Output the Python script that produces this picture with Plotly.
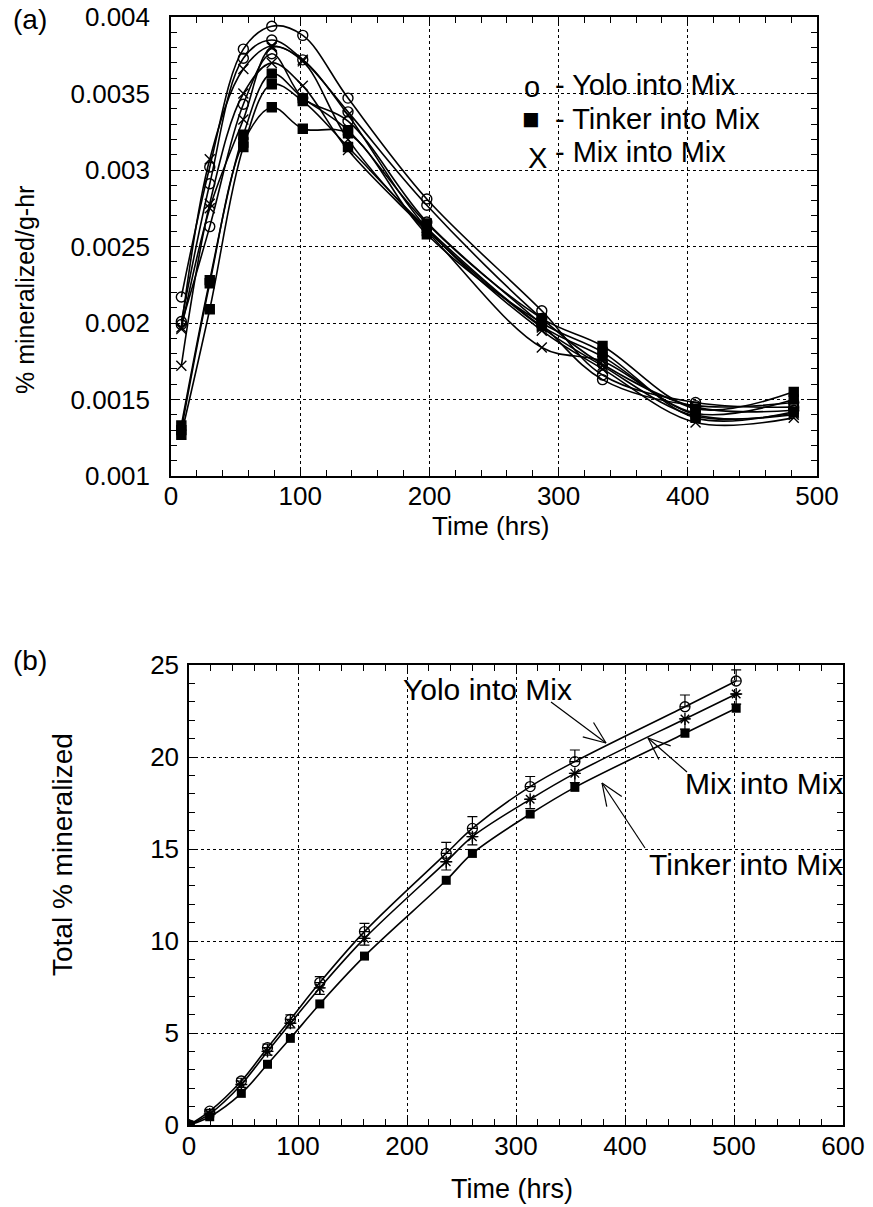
import math
import plotly.graph_objects as go

W, H = 873, 1207

# ---------------- data: panel (a) ----------------
t_a = [8, 30, 56, 78, 102, 137, 198, 287, 334, 406, 482]
yolo_a = [
    [0.00217, 0.00302, 0.00379, 0.00394, 0.00388, 0.00347, 0.00281, 0.00208, 0.00166, 0.00148, 0.00145],
    [0.00201, 0.00291, 0.00373, 0.00385, 0.00372, 0.00338, 0.00277, 0.00203, 0.00173, 0.00145, 0.00143],
    [0.00199, 0.00263, 0.00343, 0.00376, 0.00347, 0.00332, 0.00266, 0.00199, 0.00163, 0.00146, 0.00148],
]
tinker_a = [
    [0.00133, 0.00228, 0.00323, 0.00363, 0.00347, 0.00326, 0.00265, 0.00203, 0.00185, 0.00144, 0.00155],
    [0.00127, 0.00209, 0.00315, 0.00356, 0.00345, 0.00315, 0.00262, 0.00198, 0.00178, 0.00141, 0.00150],
    [0.00130, 0.00226, 0.00318, 0.00341, 0.00327, 0.00324, 0.00258, 0.00200, 0.00181, 0.00138, 0.00142],
]
mix_a = [
    [0.00197, 0.00307, 0.00366, 0.00381, 0.00372, 0.00336, 0.00262, 0.00195, 0.00170, 0.00135, 0.00138],
    [0.00172, 0.00278, 0.00350, 0.00370, 0.00355, 0.00313, 0.00260, 0.00184, 0.00175, 0.00140, 0.00140],
    [0.00196, 0.00275, 0.00333, 0.00380, 0.00371, 0.00320, 0.00261, 0.00197, 0.00172, 0.00139, 0.00141],
]
legend_a = ["- Yolo into Mix", "- Tinker into Mix", "- Mix into Mix"]

# ---------------- data: panel (b) ----------------
t_b = [0, 19, 48, 72, 93, 120, 161, 236, 260, 313, 354, 455, 502]
yolo_b = [0, 0.75, 2.39, 4.2, 5.74, 7.74, 10.51, 14.76, 16.12, 18.39, 19.75, 22.73, 24.13]
yolo_b_err = [0, 0.1, 0.15, 0.2, 0.25, 0.32, 0.45, 0.6, 0.64, 0.55, 0.63, 0.64, 0.6]
mix_b = [0, 0.6, 2.2, 4.0, 5.53, 7.45, 10.14, 14.31, 15.67, 17.7, 19.11, 22.07, 23.42]
mix_b_err = [0, 0.1, 0.15, 0.2, 0.25, 0.35, 0.36, 0.45, 0.45, 0.5, 0.5, 0.55, 0.55]
tinker_b = [0, 0.45, 1.72, 3.3, 4.71, 6.58, 9.18, 13.3, 14.76, 16.9, 18.35, 21.29, 22.65]
labels_b = ["Yolo into Mix", "Mix into Mix", "Tinker into Mix"]

FONT = "Liberation Sans, Arial, Helvetica, sans-serif"
LW = 1.6

fig = go.Figure()

sym_a = [("circle-open", yolo_a, 10), ("square", tinker_a, 9), ("x-thin-open", mix_a, 10)]
for sym, group, size in sym_a:
    for series in group:
        fig.add_trace(go.Scatter(
            x=t_a, y=series, mode="lines+markers", xaxis="x", yaxis="y",
            line=dict(color="black", width=LW, shape="spline", smoothing=1.0),
            marker=dict(symbol=sym, size=size, color="black", line=dict(color="black", width=1.4)),
            showlegend=False, hoverinfo="skip"))

# panel (b)
fig.add_trace(go.Scatter(
    x=t_b, y=yolo_b, mode="lines+markers", xaxis="x2", yaxis="y2",
    line=dict(color="black", width=LW, shape="spline", smoothing=1.0),
    marker=dict(symbol="circle-open", size=10, color="black", line=dict(width=1.3)),
    error_y=dict(type="data", symmetric=False, array=yolo_b_err, arrayminus=[0] * len(t_b),
                 color="black", thickness=1.2, width=5),
    showlegend=False, hoverinfo="skip"))
fig.add_trace(go.Scatter(
    x=t_b, y=mix_b, mode="lines+markers", xaxis="x2", yaxis="y2",
    line=dict(color="black", width=LW, shape="spline", smoothing=1.0),
    marker=dict(symbol="asterisk-open", size=10, color="black", line=dict(width=1.4)),
    error_y=dict(type="data", symmetric=False, array=[0] * len(t_b), arrayminus=mix_b_err,
                 color="black", thickness=1.2, width=5),
    showlegend=False, hoverinfo="skip"))
fig.add_trace(go.Scatter(
    x=t_b, y=tinker_b, mode="lines+markers", xaxis="x2", yaxis="y2",
    line=dict(color="black", width=LW, shape="spline", smoothing=1.0),
    marker=dict(symbol="square", size=9, color="black"),
    showlegend=False, hoverinfo="skip"))

# ---------------- axes ----------------
def px_x(p):
    return p / W

def px_y(p):
    return 1 - p / H

TICKF = dict(family=FONT, size=26, color="black")
common = dict(showline=True, linecolor="black", linewidth=1.5, mirror="ticks",
              ticks="inside", ticklen=8, tickwidth=1.2, tickcolor="black",
              showgrid=True, gridcolor="black", griddash="dot", gridwidth=1.2,
              zeroline=False, tickfont=TICKF, automargin=False)

fig.update_layout(
    template="none",
    width=W, height=H, margin=dict(l=0, r=0, t=0, b=0, autoexpand=False),
    paper_bgcolor="white", plot_bgcolor="white",
    xaxis=dict(domain=[px_x(171), px_x(817)], anchor="y", range=[0, 500], dtick=100,
               minor=dict(dtick=20, ticks="inside", ticklen=6, tickcolor="black", showgrid=False),
               ticklabelstandoff=-4, **common),
    yaxis=dict(domain=[px_y(476), px_y(17)], anchor="x", range=[0.001, 0.004], dtick=0.0005,
               tickformat="~g",
               minor=dict(dtick=0.0001, ticks="inside", ticklen=6, tickcolor="black", showgrid=False),
               ticklabelstandoff=14, **common),
    xaxis2=dict(domain=[px_x(189), px_x(843)], anchor="y2", range=[0, 600], dtick=100,
                minor=dict(dtick=20, ticks="inside", ticklen=6, tickcolor="black", showgrid=False),
                ticklabelstandoff=-3, **common),
    yaxis2=dict(domain=[px_y(1125), px_y(665)], anchor="x2", range=[0, 25], dtick=5,
                minor=dict(dtick=1, ticks="inside", ticklen=6, tickcolor="black", showgrid=False),
                ticklabelstandoff=3, **common),
)

ann = []
# axis titles
ann.append(dict(text="Time (hrs)", x=px_x(490), y=px_y(526), xref="paper", yref="paper",
                xanchor="center", yanchor="middle", showarrow=False,
                font=dict(family=FONT, size=26, color="black")))
ann.append(dict(text="Time (hrs)", x=px_x(512), y=px_y(1189), xref="paper", yref="paper",
                xanchor="center", yanchor="middle", showarrow=False,
                font=dict(family=FONT, size=27, color="black")))
ann.append(dict(text="% mineralized/g-hr", x=px_x(25), y=px_y(290), xref="paper", yref="paper",
                xanchor="center", yanchor="middle", textangle=-90, showarrow=False,
                font=dict(family=FONT, size=25, color="black")))
ann.append(dict(text="Total % mineralized", x=px_x(62), y=px_y(855), xref="paper", yref="paper",
                xanchor="center", yanchor="middle", textangle=-90, showarrow=False,
                font=dict(family=FONT, size=28, color="black")))
# panel labels
ann.append(dict(text="(a)", x=px_x(11), y=px_y(20), xref="paper", yref="paper",
                xanchor="left", yanchor="middle", showarrow=False,
                font=dict(family=FONT, size=28, color="black")))
ann.append(dict(text="(b)", x=px_x(11), y=px_y(661), xref="paper", yref="paper",
                xanchor="left", yanchor="middle", showarrow=False,
                font=dict(family=FONT, size=28, color="black")))

# legend of panel (a)
leg_sym = [("o", 522, 87), ("\u25a0", 520, 119), ("X", 526, 158)]
for (sym, sx, sy) in leg_sym:
    ann.append(dict(text=sym, x=px_x(sx), y=px_y(sy), xref="paper", yref="paper",
                    xanchor="left", yanchor="middle", showarrow=False,
                    font=dict(family=FONT, size=29, color="black")))
for i, txt in enumerate(legend_a):
    ann.append(dict(text=txt, x=px_x(553), y=px_y(85 + 33.5 * i), xref="paper", yref="paper",
                    xanchor="left", yanchor="middle", showarrow=False,
                    font=dict(family=FONT, size=29, color="black")))

# labels of panel (b)
ann.append(dict(text=labels_b[0], x=px_x(401), y=px_y(690), xref="paper", yref="paper",
                xanchor="left", yanchor="middle", showarrow=False,
                font=dict(family=FONT, size=30, color="black")))
ann.append(dict(text=labels_b[1], x=px_x(845), y=px_y(783), xref="paper", yref="paper",
                xanchor="right", yanchor="middle", showarrow=False,
                font=dict(family=FONT, size=30, color="black")))
ann.append(dict(text=labels_b[2], x=px_x(845), y=px_y(865), xref="paper", yref="paper",
                xanchor="right", yanchor="middle", showarrow=False,
                font=dict(family=FONT, size=30, color="black")))

shapes = []
def arrow(tail, head, L=24, ang=22):
    tx, ty = tail
    hx, hy = head
    dx, dy = tx - hx, ty - hy
    n = math.hypot(dx, dy)
    ux, uy = dx / n, dy / n
    segs = [(tail, head)]
    for s in (-1, 1):
        a = math.radians(ang * s)
        rx = ux * math.cos(a) - uy * math.sin(a)
        ry = ux * math.sin(a) + uy * math.cos(a)
        segs.append(((hx + rx * L, hy + ry * L), head))
    for (p0, p1) in segs:
        shapes.append(dict(type="line", xref="paper", yref="paper",
                           x0=px_x(p0[0]), y0=px_y(p0[1]), x1=px_x(p1[0]), y1=px_y(p1[1]),
                           line=dict(color="black", width=1.2)))

arrow((551, 702), (606, 743))
arrow((687, 772), (648, 738))
arrow((645, 848), (602, 783))

fig.update_layout(annotations=ann, shapes=shapes)
fig.write_html("out.html")
